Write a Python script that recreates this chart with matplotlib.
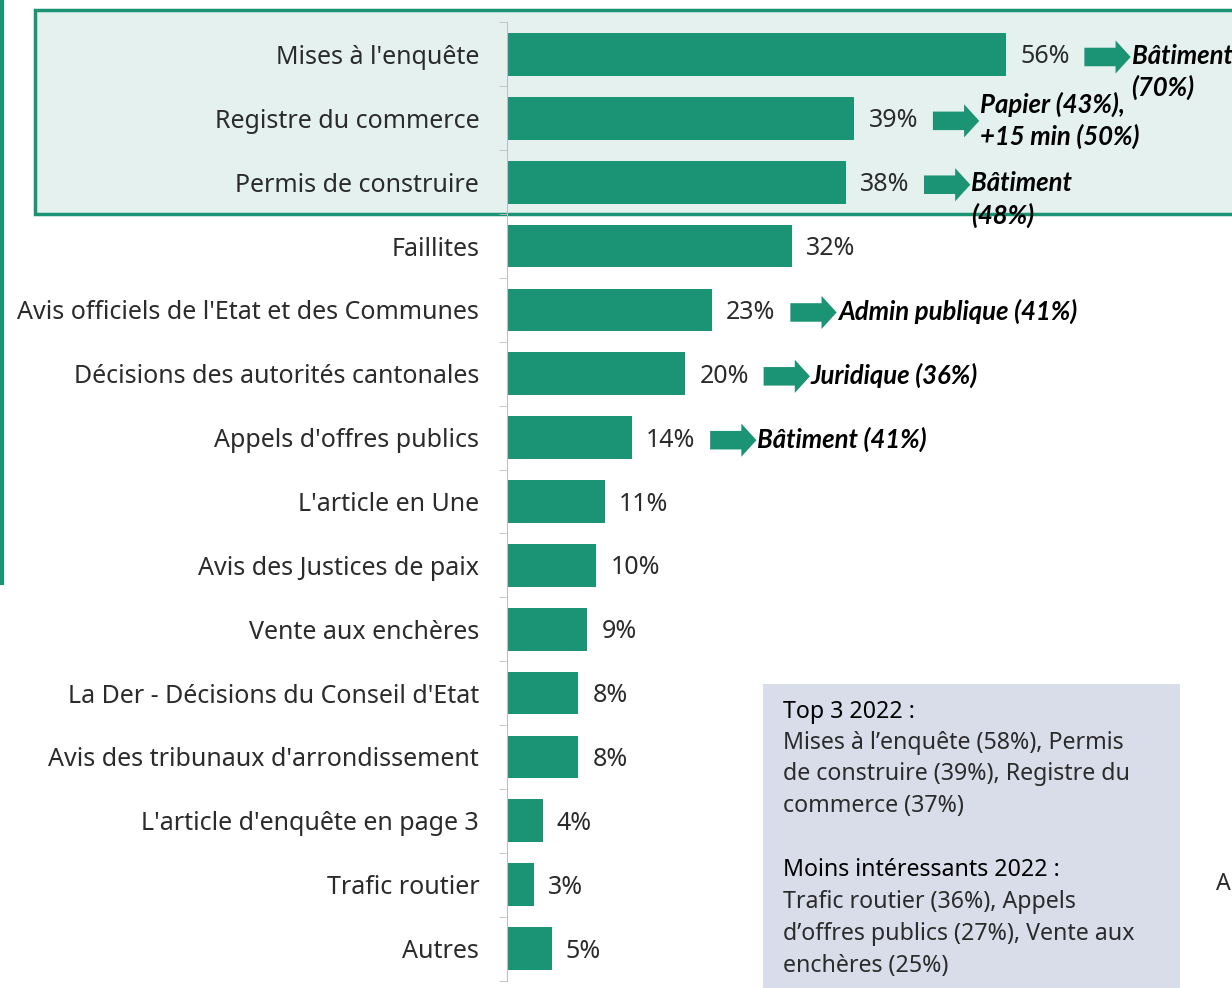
"""Horizontal bar chart of most-read rubrics, with sector call-outs."""
import numpy as np
import matplotlib
matplotlib.use("Agg")
import matplotlib.pyplot as plt
from matplotlib.patches import Rectangle, FancyArrow
from matplotlib.lines import Line2D

categories = [
    "Mises à l'enquête",
    "Registre du commerce",
    "Permis de construire",
    "Faillites",
    "Avis officiels de l'Etat et des Communes",
    "Décisions des autorités cantonales",
    "Appels d'offres publics",
    "L'article en Une",
    "Avis des Justices de paix",
    "Vente aux enchères",
    "La Der - Décisions du Conseil d'Etat",
    "Avis des tribunaux d'arrondissement",
    "L'article d'enquête en page 3",
    "Trafic routier",
    "Autres",
]
values = [56, 39, 38, 32, 23, 20, 14, 11, 10, 9, 8, 8, 4, 3, 5]

# sector call-outs: category index -> text lines
callout_rows = [0, 1, 2, 4, 5, 6]
callout_texts = [
    ["Bâtiment", "(70%)"],
    ["Papier (43%),", "+15 min (50%)"],
    ["Bâtiment", "(48%)"],
    ["Admin publique (41%)"],
    ["Juridique (36%)"],
    ["Bâtiment (41%)"],
]

note_top_title = "Top 3 2022 :"
note_top_body = ["Mises à l\u2019enquête (58%), Permis",
                 "de construire (39%), Registre du",
                 "commerce (37%)"]
note_low_title = "Moins intéressants 2022 :"
note_low_body = ["Trafic routier (36%), Appels",
                 "d\u2019offres publics (27%), Vente aux",
                 "enchères (25%)"]

GREEN = "#1a9474"
TXT = "#2b2b2b"
FONT = "Noto Sans"
W, H = 1232, 988

fig = plt.figure(figsize=(W / 100, H / 100), dpi=100)

# highlight box around the top 3
fig.patches.append(Rectangle((35 / W, 1 - 214 / H), 1.1, 204 / H,
                             transform=fig.transFigure, facecolor="#e5f1ee",
                             edgecolor=GREEN, linewidth=2.5, zorder=0))
# green rule on the far left
fig.lines.append(Line2D([1.5 / W, 1.5 / W], [1, 1 - 583 / H],
                        transform=fig.transFigure, color=GREEN, linewidth=3))
# grey note box
fig.patches.append(Rectangle((763 / W, 0), 417 / W, 304 / H,
                             transform=fig.transFigure, facecolor="#d9dde9",
                             edgecolor="none", zorder=0))

ax = fig.add_axes([507 / W, 7.5 / H, 725 / W, 958 / H])
ax.set_facecolor("none")
ax.set_zorder(2)

y = np.arange(len(categories))
ax.barh(y, values, height=0.67, color=GREEN)
ax.set_xlim(0, 725 / 8.91)
ax.set_ylim(len(categories) - 0.5, -0.5)

for s in ["top", "right", "bottom"]:
    ax.spines[s].set_visible(False)
ax.spines["left"].set_color("#bfbfbf")
ax.set_xticks([])
ax.set_yticks(y)
ax.set_yticklabels(categories, fontsize=18, family=FONT, fontweight="light",
                   color=TXT)
ax.tick_params(axis="y", length=0, pad=20)
ax.set_yticks(np.arange(-0.5, len(categories), 1), minor=True)
ax.tick_params(axis="y", which="minor", length=6, color="#bfbfbf")

for yi, v in zip(y, values):
    ax.text(v + 1.6, yi + 0.04, f"{v}%", va="center", ha="left", fontsize=18,
            family=FONT, fontweight="light", color=TXT)

bold = dict(ha="left", va="center", fontsize=18.5, family="Lato",
            fontweight="bold", style="italic", color="black")
for row, lines in zip(callout_rows, callout_texts):
    x0 = values[row] + 8.8
    ax.add_patch(FancyArrow(x0, row + 0.04, 5.2, 0, width=0.29,
                            head_width=0.52, head_length=1.7,
                            length_includes_head=True, color=GREEN,
                            linewidth=0))
    # the two-line Papier call-out is centred on its arrow, the others hang
    first = row - 0.22 if lines[0].startswith("Papier") else row + 0.02
    for k, line in enumerate(lines):
        ax.text(x0 + 5.3, first + 0.5 * k, line, **bold)

tx = 783 / W
fs = 16.7
fig.text(tx, 1 - 712 / H, note_top_title, va="center", ha="left",
         fontsize=fs, family=FONT, color="black")
for k, line in enumerate(note_top_body):
    fig.text(tx, 1 - (743 + 31.5 * k) / H, line, va="center", ha="left",
             fontsize=fs, family=FONT, fontweight="light", color=TXT)
fig.text(tx, 1 - 870 / H, note_low_title, va="center", ha="left",
         fontsize=fs, family=FONT, color="black")
for k, line in enumerate(note_low_body):
    fig.text(tx, 1 - (902 + 32 * k) / H, line, va="center", ha="left",
             fontsize=fs, family=FONT, fontweight="light", color=TXT)
fig.text(1231 / W, 1 - 884 / H, "A", va="center", ha="right", fontsize=fs,
         family=FONT, fontweight="light", color=TXT)

fig.savefig("out.png", dpi=100)
